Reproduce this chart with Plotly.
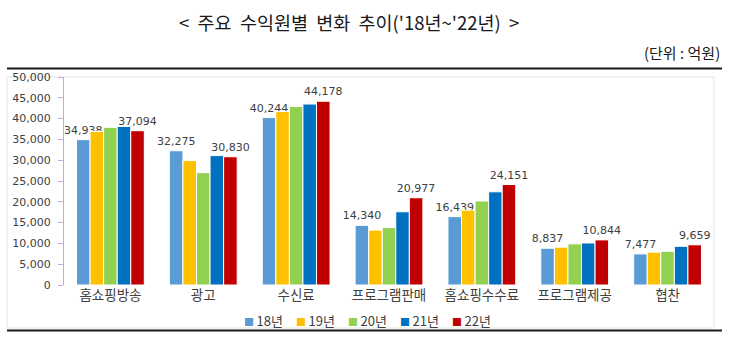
import plotly.graph_objects as go

categories = ["홈쇼핑방송", "광고", "수신료", "프로그램판매", "홈쇼핑수수료", "프로그램제공", "협찬"]
years = ["18년", "19년", "20년", "21년", "22년"]
colors = ["#5B9BD5", "#FFC000", "#92D050", "#0070C0", "#C00000"]
v18 = [34938, 32275, 40244, 14340, 16439, 8837, 7477]
v19 = [36900, 29900, 41700, 13200, 18000, 9100, 7900]
v20 = [37900, 27000, 42900, 13800, 20200, 9900, 8100]
v21 = [38100, 31100, 43500, 17600, 22400, 10100, 9300]
v22 = [37094, 30830, 44178, 20977, 24151, 10844, 9659]
series = [v18, v19, v20, v21, v22]
labelled = [True, False, False, False, True]

W, H = 730, 353
L, R, T, B = 64, 714, 77, 285

def px(x):
    return (x - L) / (R - L)

def py(y):
    return (B - y) / (B - T)

fig = go.Figure()
for name, vals, col, lab in zip(years, series, colors, labelled):
    fig.add_trace(go.Bar(
        x=categories, y=vals, name=name,
        marker=dict(color=col, line=dict(color="white", width=1)),
        text=[f"{v:,}" for v in vals] if lab else None,
        textposition="outside" if lab else "none",
        constraintext="none", cliponaxis=False,
        textfont=dict(family="DejaVu Sans", size=11, color="#404040"),
        showlegend=False,
    ))

legend_html = "\u2003".join(
    f"<span style='color:{c}; font-size:10px'>■</span>\u2009{n}" for n, c in zip(years, colors)
)
title_text = "&lt;&nbsp; 주요&nbsp; 수익원별&nbsp; 변화&nbsp; 추이('18년~'22년)&nbsp; &gt;"

fig.update_layout(
    width=W, height=H,
    margin=dict(l=L, r=W - R, t=T, b=H - B),
    paper_bgcolor="white", plot_bgcolor="white",
    barmode="group", bargap=0.27, bargroupgap=0,
    font=dict(family="Noto Sans CJK KR", color="#404040"),
    xaxis=dict(
        showline=False, ticks="", showgrid=False,
        tickfont=dict(family="Noto Sans CJK KR", size=13.5, color="#404040"),
    ),
    yaxis=dict(
        range=[0, 50000], dtick=5000, tickformat=",",
        showgrid=False, zeroline=False,
        showline=True, linecolor="#C9A6DE", linewidth=1,
        ticks="outside", ticklen=5, tickcolor="#C9A6DE",
        ticklabelstandoff=5,
        tickfont=dict(family="DejaVu Sans", size=11, color="#404040"),
    ),
    shapes=[
        dict(type="rect", xref="paper", yref="paper",
             x0=px(7), x1=px(714), y0=py(328), y1=py(77),
             line=dict(color="#E3E3E3", width=1), layer="below"),
        dict(type="line", xref="paper", yref="paper",
             x0=px(7), x1=px(722), y0=py(68.5), y1=py(68.5),
             line=dict(color="#1a1a1a", width=2)),
        dict(type="line", xref="paper", yref="paper",
             x0=px(7), x1=px(722), y0=py(330.5), y1=py(330.5),
             line=dict(color="#1a1a1a", width=2)),
    ],
    annotations=[
        dict(text=title_text,
             xref="paper", yref="paper", x=px(349), y=py(22),
             xanchor="center", yanchor="middle", showarrow=False,
             font=dict(family="Noto Sans CJK KR", size=18.5, color="#1a1a1a")),
        dict(text="(단위&nbsp;:&nbsp;억원)",
             xref="paper", yref="paper", x=px(722), y=py(52),
             xanchor="right", yanchor="middle", showarrow=False,
             font=dict(family="Noto Sans CJK KR", size=15, color="#1a1a1a")),
        dict(text=legend_html,
             xref="paper", yref="paper", x=px(367), y=py(320),
             xanchor="center", yanchor="middle", showarrow=False,
             font=dict(family="Noto Sans CJK KR", size=13, color="#404040")),
    ],
)

fig.write_html("out.html")
